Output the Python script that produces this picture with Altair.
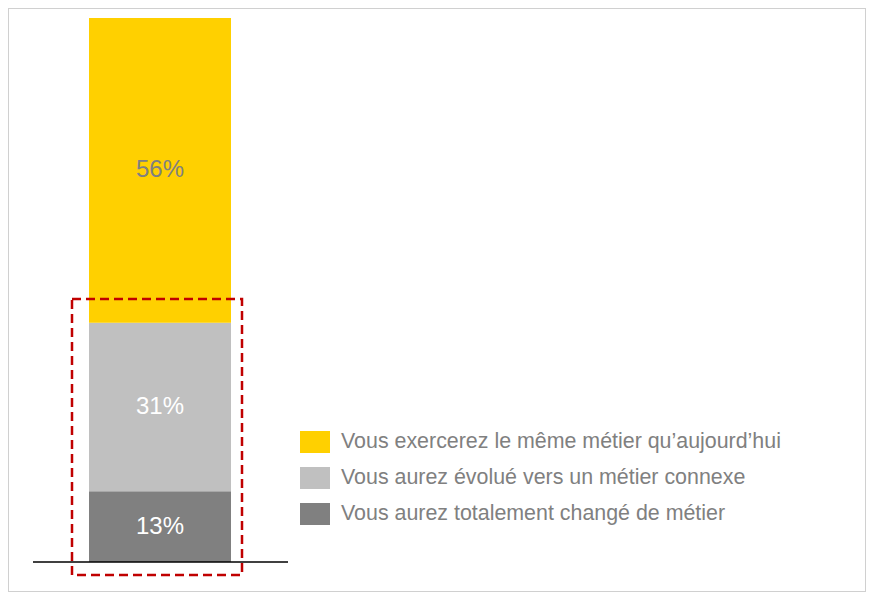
import altair as alt
import pandas as pd

# ---- data ----
categories = [
    "Vous exercerez le même métier qu’aujourd’hui",
    "Vous aurez évolué vers un métier connexe",
    "Vous aurez totalement changé de métier",
]
values = [56, 31, 13]
labels = ["56%", "31%", "13%"]
stack_order = [3, 2, 1]          # bottom segment first
colors = ["#FFD000", "#C0C0C0", "#808080"]
label_colors = ["#808080", "#FFFFFF", "#FFFFFF"]

# stacked positions
rows = []
base = 0
for cat, v, lab, o, lc in sorted(zip(categories, values, labels, stack_order, label_colors), key=lambda r: r[3]):
    rows.append({"cat": cat, "v": v, "lab": lab, "o": o, "lc": lc,
                 "y0": base, "y1": base + v, "mid": base + v / 2})
    base += v
df = pd.DataFrame(rows)

FONT = "Arial, Liberation Sans, sans-serif"
W, H = 858, 584
yscale = alt.Scale(domain=[-5.515, 101.838], range=[H, 0], nice=False, zero=False)

bars = alt.Chart(df).mark_rect().encode(
    x=alt.value(81), x2=alt.value(223),
    y=alt.Y("y0:Q", scale=yscale, axis=None),
    y2="y1:Q",
    color=alt.Color(
        "cat:N",
        scale=alt.Scale(domain=categories, range=colors),
        sort=categories,
        legend=alt.Legend(
            title=None, orient="none", legendX=292, legendY=419,
            symbolType="M-1,-0.733H1V0.733H-1Z", symbolSize=900,
            symbolStrokeWidth=0, symbolOpacity=1,
            labelFont=FONT, labelFontSize=21.4, labelColor="#808080",
            labelLimit=0, labelOffset=11, rowPadding=10, padding=0,
        ),
    ),
)

texts = alt.Chart(df).mark_text(font=FONT, fontSize=24).encode(
    x=alt.value(152),
    y=alt.Y("mid:Q", scale=yscale),
    text="lab:N",
    color=alt.Color("lc:N", scale=None),
)

baseline = alt.Chart(pd.DataFrame({"v": [0]})).mark_rule(color="#000000", strokeWidth=1.5).encode(
    x=alt.value(25), x2=alt.value(280), y=alt.Y("v:Q", scale=yscale)
)

highlight = alt.Chart(pd.DataFrame({"a": [0]})).mark_rect(
    fill=None, fillOpacity=0, stroke="#C00000", strokeWidth=2.5, strokeDash=[9, 5]
).encode(
    x=alt.value(64), x2=alt.value(234), y=alt.value(291), y2=alt.value(567)
)

chart = alt.layer(bars, texts, baseline, highlight).properties(
    width=W, height=H, autosize=alt.AutoSizeParams(type="none"), padding=0
).configure_view(stroke="#D0D0D0", strokeWidth=2)

chart.save("out.html", embed_options={"renderer": "svg", "actions": False})
